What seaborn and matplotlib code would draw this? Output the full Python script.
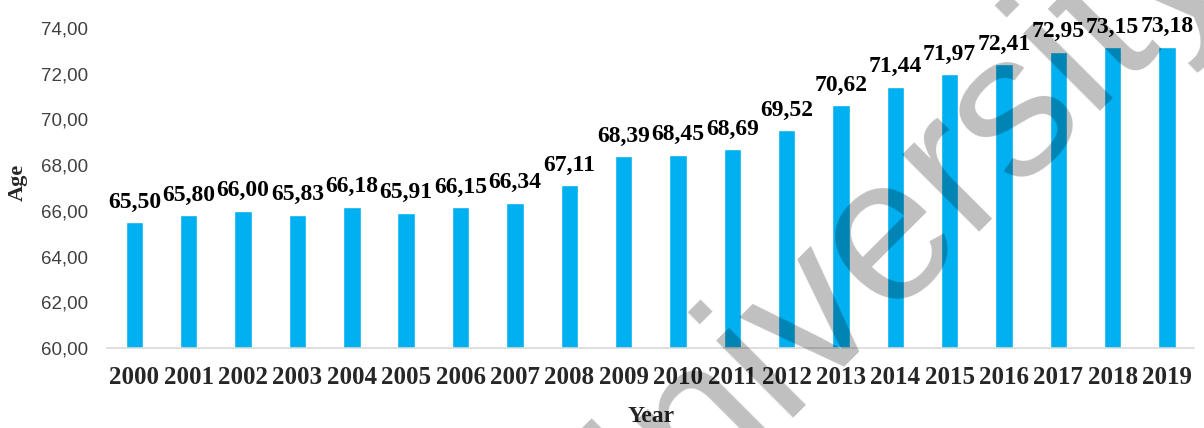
import matplotlib
matplotlib.use("Agg")
import matplotlib.pyplot as plt
from matplotlib.ticker import FuncFormatter
import pandas as pd
import seaborn as sns

# data
years = [str(y) for y in range(2000, 2020)]
ages = [65.50, 65.80, 66.00, 65.83, 66.18, 65.91, 66.15, 66.34, 67.11, 68.39,
        68.45, 68.69, 69.52, 70.62, 71.44, 71.97, 72.41, 72.95, 73.15, 73.18]
y_ticks = [60, 62, 64, 66, 68, 70, 72, 74]

BAR_COLOR = "#00B0F0"
SERIF = "Liberation Serif"
SANS = "Liberation Sans"


def comma(v, pos=None):
	return f"{v:.2f}".replace(".", ",")


sns.set_theme(style="white")
plt.rcParams['font.family'] = [SANS, 'DejaVu Sans']

df = pd.DataFrame({"Year": years, "Age": ages})

fig = plt.figure(figsize=(12.04, 4.28), dpi=100)
ax = fig.add_axes([0.0891, 0.1869, 0.9028, 0.7477])

sns.barplot(data=df, x="Year", y="Age", color=BAR_COLOR, width=0.32,
	    saturation=1, ax=ax)

ax.set_ylim(60, 74)
ax.set_xlim(-0.5, len(years) - 0.5)
ax.set_yticks(y_ticks)
ax.yaxis.set_major_formatter(FuncFormatter(comma))
ax.tick_params(axis="y", length=0, pad=14, labelsize=13.5, colors="#404040")
ax.tick_params(axis="x", length=0, pad=13)
for lbl in ax.get_xticklabels():
	lbl.set_fontfamily(SERIF)
	lbl.set_fontweight("bold")
	lbl.set_fontsize(18)
for lbl in ax.get_yticklabels():
	lbl.set_fontfamily(SANS)

for side in ["top", "right", "left"]:
	ax.spines[side].set_visible(False)
ax.spines["bottom"].set_color("#D9D9D9")
ax.spines["bottom"].set_linewidth(1.2)

# value labels
bars = ax.containers[0]
texts = ax.bar_label(bars, labels=[comma(v) for v in ages], padding=7,
		     fontsize=17, fontweight="bold", fontfamily=SERIF, color="black")
for t in texts:
	t.set_clip_on(False)

ax.set_xlabel("Year", fontsize=17, fontweight="bold", fontfamily=SERIF)
ax.set_ylabel("Age", fontsize=16, fontweight="bold", fontfamily=SERIF)
ax.xaxis.set_label_coords(0.5, -0.215)
ax.xaxis.label.set_va("center")
ax.yaxis.set_label_coords(-0.0822, 0.519)
ax.yaxis.label.set_va("center")

# watermark
fig.text(875 / 1204, 1 - 245 / 428, "University", rotation=45,
	 rotation_mode="anchor", ha="center", va="center", fontsize=148,
	 fontfamily=SANS, color="black", alpha=0.25, zorder=10)

fig.savefig("out.png", dpi=100)
plt.close()
